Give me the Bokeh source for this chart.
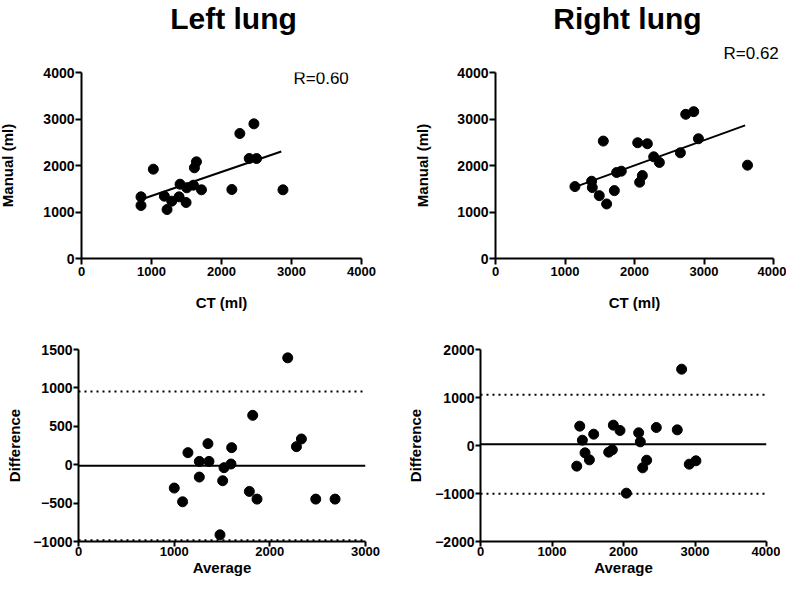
from bokeh.plotting import figure
from bokeh.layouts import column, row
from bokeh.models import Range1d, FixedTicker, Label
from bokeh.embed import file_html
from bokeh.resources import INLINE

FONT = "Liberation Sans"

# ---- Left lung: CT vs manual (ml)
left_ct = [850, 850, 1026, 1184, 1222, 1289, 1394, 1408, 1494, 1504,
           1599, 1613, 1642, 1714, 2148, 2262, 2396, 2463, 2501, 2878]
left_manual = [1326, 1140, 1921, 1340, 1053, 1233, 1326, 1598, 1204, 1520,
               1577, 1950, 2079, 1477, 1484, 2688, 2150, 2896, 2150, 1477]
left_fit_x = [850, 2854]
left_fit_y = [1269, 2301]
left_r = "R=0.60"

# ---- Right lung: CT vs manual (ml)
right_ct = [1143, 1383, 1393, 1493, 1551, 1599, 1710, 1743, 1810, 2046,
            2074, 2113, 2185, 2276, 2358, 2660, 2737, 2852, 2920, 3626]
right_manual = [1547, 1662, 1525, 1352, 2525, 1173, 1460, 1849, 1878, 2489,
                1640, 1784, 2468, 2187, 2065, 2273, 3101, 3158, 2575, 2007]
right_fit_x = [1119, 3592]
right_fit_y = [1525, 2863]
right_r = "R=0.62"

# ---- Bland-Altman, left lung
left_avg = [1001, 1088, 1144, 1263, 1263, 1353, 1364, 1479, 1507, 1521,
            1594, 1601, 1786, 1821, 1866, 2187, 2278, 2330, 2480, 2682]
left_diff = [-304, -483, 157, 43, -161, 274, 43, -913, -209, -39,
             9, 222, -348, 643, -448, 1391, 235, 335, -448, -448]
left_bias = -15
left_loa = [952, -983]

# ---- Bland-Altman, right lung
right_avg = [1346, 1388, 1425, 1462, 1523, 1583, 1793, 1844, 1858, 1951,
             2040, 2212, 2235, 2268, 2324, 2459, 2752, 2813, 2920, 3013]
right_diff = [-430, 403, 111, -153, -299, 236, -139, -90, 424, 313,
              -993, 264, 76, -465, -306, 375, 326, 1590, -389, -319]
right_bias = 28
right_loa = [1056, -1005]

top_ticks = [0, 1000, 2000, 3000, 4000]
bl_xticks = [0, 1000, 2000, 3000]
bl_yticks = [-1000, -500, 0, 500, 1000, 1500]
br_xticks = [0, 1000, 2000, 3000, 4000]
br_yticks = [-2000, -1000, 0, 1000, 2000]

titles = ["Left lung", "Right lung"]


def make(xr, yr, xt, yt, xlabel, ylabel, fw, fh, bl, br, bt, bb,
         ystand, xstand, tick_out, xlab_stand):
    p = figure(x_range=Range1d(*xr), y_range=Range1d(*yr),
               frame_width=fw, frame_height=fh,
               min_border_left=bl, min_border_right=br,
               min_border_top=bt, min_border_bottom=bb,
               output_backend="svg", toolbar_location=None, tools="")
    p.outline_line_color = None
    p.xgrid.visible = False
    p.ygrid.visible = False
    p.background_fill_color = "white"
    p.border_fill_color = "white"
    p.xaxis.ticker = FixedTicker(ticks=xt)
    p.yaxis.ticker = FixedTicker(ticks=yt)
    p.xaxis.axis_label = xlabel
    p.yaxis.axis_label = ylabel
    p.yaxis.axis_label_standoff = ystand
    p.xaxis.axis_label_standoff = xstand
    for ax, size, stand in ((p.xaxis[0], "13px", xlab_stand),
                            (p.yaxis[0], "14px", 1)):
        ax.axis_line_width = 2
        ax.axis_line_color = "black"
        ax.major_tick_line_width = 2
        ax.major_tick_line_color = "black"
        ax.major_tick_out = tick_out
        ax.major_tick_in = 0
        ax.minor_tick_line_color = None
        ax.major_label_standoff = stand
        ax.major_label_text_font = FONT
        ax.major_label_text_font_style = "bold"
        ax.major_label_text_font_size = size
        ax.major_label_text_color = "black"
        ax.axis_label_text_font = FONT
        ax.axis_label_text_font_style = "bold"
        ax.axis_label_text_font_size = "15px"
        ax.axis_label_text_color = "black"
    return p


# Header strip with the two panel titles and the right-hand R value
hdr = figure(x_range=Range1d(0, 783), y_range=Range1d(66, 0),
             frame_width=783, frame_height=66, min_border=0,
             x_axis_type=None, y_axis_type=None,
             output_backend="svg", toolbar_location=None, tools="")
hdr.outline_line_color = None
hdr.xgrid.visible = False
hdr.ygrid.visible = False
for txt, cx in zip(titles, (237, 631)):
    hdr.add_layout(Label(x=cx, y=22, text=txt, text_font=FONT,
                         text_font_style="bold", text_font_size="30px",
                         text_align="center", text_baseline="alphabetic",
                         text_color="black"))
hdr.add_layout(Label(x=727, y=57, text=right_r, text_font=FONT,
                     text_font_size="17px", text_align="left",
                     text_baseline="alphabetic", text_color="black"))

# Top-left
p1 = make((0, 4000), (0, 4000), top_ticks, top_ticks, "CT (ml)", "Manual (ml)",
          280, 186, 78, 50, 10, 63, 24, 15, 6, 2)
p1.line(left_fit_x, left_fit_y, line_width=2, color="black")
p1.scatter(left_ct, left_manual, size=10, color="black")
p1.add_layout(Label(x=3029, y=3880, text=left_r, text_font=FONT,
                    text_font_size="17px", text_align="left",
                    text_baseline="alphabetic", text_color="black"))

# Top-right
p2 = make((0, 4000), (0, 4000), top_ticks, top_ticks, "CT (ml)", "Manual (ml)",
          278, 186, 84, 13, 10, 63, 23, 15, 6, 2)
p2.line(right_fit_x, right_fit_y, line_width=2, color="black")
p2.scatter(right_ct, right_manual, size=10, color="black")

# Bottom-left
p3 = make((0, 3000), (-1000, 1500), bl_xticks, bl_yticks, "Average", "Difference",
          287, 192, 82, 39, 28, 45, 7, 0, 5, 0)
p3.line([0, 3000], [left_bias, left_bias], line_width=2, color="black")
for v in left_loa:
    p3.line([0, 3000], [v, v], line_width=2, color="black", line_dash="2 4")
p3.scatter(left_avg, left_diff, size=10, color="black")

# Bottom-right
p4 = make((0, 4000), (-2000, 2000), br_xticks, br_yticks, "Average", "Difference",
          286, 192, 75, 14, 28, 45, 8, 0, 5, 0)
p4.line([0, 4000], [right_bias, right_bias], line_width=2, color="black")
for v in right_loa:
    p4.line([0, 4000], [v, v], line_width=2, color="black", line_dash="2 4")
p4.scatter(right_avg, right_diff, size=10, color="black")

layout = column(hdr, row(p1, p2), row(p3, p4), margin=(-4, 0, 0, -4))

open("out.html", "w").write(file_html(layout, INLINE))
